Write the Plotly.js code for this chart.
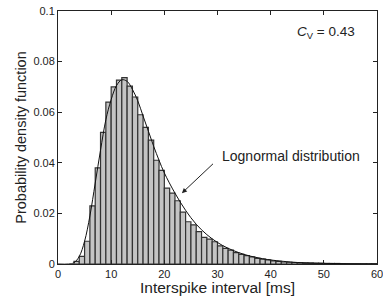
<!DOCTYPE html>
<html>
<head>
<meta charset="utf-8">
<script src="https://cdn.plot.ly/plotly-3.0.1.min.js"></script>
<style>html,body{margin:0;padding:0;background:#fff;}#chart{width:383px;height:296px;}</style>
</head>
<body>
<div id="chart"></div>
<script>
// Histogram bins (left edge, ms) and probability density values
const binStart = [3,4,5,6,7,8,9,10,11,12,13,14,15,16,17,18,19,20,21,22,23,24,25,26,27,28,29,30,31,32,33,34,35,36,37,38,39,40,41,42,43,44,45,46,47,48,49,50,51,52,53,54,55,56,57,58,59];
const density = [0.001,0.003,0.009,0.023,0.038,0.052,0.064,0.070,0.0727,0.0737,0.0703,0.066,0.059,0.054,0.049,0.041,0.037,0.030,0.028,0.025,0.0205,0.0167,0.0155,0.0128,0.0105,0.0098,0.0088,0.0072,0.0062,0.0055,0.0045,0.0038,0.0033,0.0028,0.0022,0.0019,0.0016,0.0012,0.0010,0.0008,0.0007,0.0006,0.0005,0.0004,0.0004,0.0003,0.0003,0.0002,0.0002,0.0002,0.0001,0.0001,0.0001,0.0001,0.0001,0.0001,0.0001];
// Lognormal fit curve
const fitX = [0,2,3,4,5,6,7,8,9,10,11,12,13,14,15,16,17,18,19,20,22,24,26,28,30,32,34,36,38,40,45,50,55,60];
const fitY = [0,0,0.0005,0.003,0.009,0.019,0.032,0.045,0.057,0.065,0.0705,0.0728,0.0722,0.069,0.0645,0.0585,0.0525,0.0465,0.041,0.036,0.028,0.0212,0.0157,0.0116,0.0085,0.0062,0.0045,0.0032,0.0023,0.0016,0.0006,0.00025,0.0001,0.00004];
const xTicks = [0,10,20,30,40,50,60];
const yTicks = [0,0.02,0.04,0.06,0.08,0.1];
const yTickText = ['0','0.02','0.04','0.06','0.08','0.1'];

const fam = 'Liberation Sans, Arial, sans-serif';
const ink = '#222';

const traces = [
  {
    type: 'bar', x: binStart, y: density, width: 1, offset: 0,
    marker: {color: '#c4c4c4', line: {color: '#333', width: 1.2}},
    hoverinfo: 'skip'
  },
  {
    type: 'scatter', mode: 'lines', x: fitX, y: fitY,
    line: {color: '#111', width: 1, shape: 'spline'}, hoverinfo: 'skip'
  }
];

const axisCommon = {
  showline: true, linecolor: ink, linewidth: 1, mirror: 'ticks',
  ticks: 'inside', ticklen: 4, tickcolor: ink, showgrid: false, zeroline: false,
  ticklabeloverflow: 'allow',
  tickfont: {family: fam, size: 11, color: ink}
};

const layout = {
  width: 383, height: 296,
  margin: {l: 58, r: 6, t: 11, b: 32},
  paper_bgcolor: '#fff', plot_bgcolor: '#fff',
  showlegend: false, bargap: 0,
  font: {family: fam, color: ink},
  xaxis: Object.assign({}, axisCommon, {
    range: [0, 60], tickvals: xTicks, ticktext: xTicks.map(String),
    title: {text: 'Interspike interval [ms]', font: {family: fam, size: 15.5, color: ink}, standoff: 0}
  }),
  yaxis: Object.assign({}, axisCommon, {
    range: [0, 0.1], tickvals: yTicks, ticktext: yTickText,
    title: {text: 'Probability density function', font: {family: fam, size: 14.5, color: ink}, standoff: 3}
  }),
  annotations: [
    {
      x: 23.3, y: 0.028, xref: 'x', yref: 'y',
      ax: 216, ay: 161, axref: 'pixel', ayref: 'pixel',
      text: ' ', showarrow: true, arrowhead: 2, arrowsize: 1, arrowwidth: 1, arrowcolor: ink
    },
    {
      x: 30.4, y: 0.0425, xref: 'x', yref: 'y', xanchor: 'left', yanchor: 'middle',
      text: 'Lognormal distribution', showarrow: false,
      font: {family: fam, size: 14, color: ink}
    },
    {
      x: 56.3, y: 0.0915, xref: 'x', yref: 'y', xanchor: 'right', yanchor: 'middle',
      text: '<i>C</i><sub>V</sub> = 0.43', showarrow: false,
      font: {family: fam, size: 13.5, color: ink}
    }
  ]
};

// convert arrow tail pixel position into offsets relative to the head
(function(){
  const a = layout.annotations[0];
  const px = 58 + (a.x/60)*(377-58);
  const py = 264 - (a.y/0.1)*(264-11);
  a.ax = a.ax - px; a.ay = a.ay - py;
  delete a.axref; delete a.ayref;
})();

Plotly.newPlot('chart', traces, layout, {displayModeBar: false, staticPlot: true});
</script>
</body>
</html>
